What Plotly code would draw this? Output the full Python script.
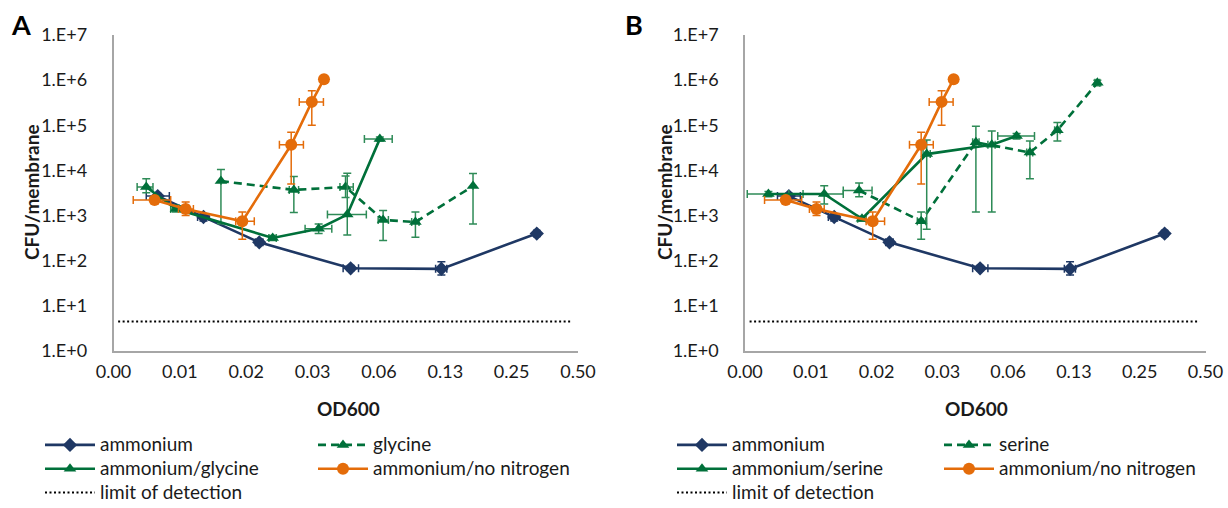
import numpy as np
import plotly.graph_objects as go

W, H = 1228, 508

# ---------------- data ----------------
x_tickvals = [0.00390625, 0.0078125, 0.015625, 0.03125, 0.0625, 0.125, 0.25, 0.5]
x_ticktext = ["0.00", "0.01", "0.02", "0.03", "0.06", "0.13", "0.25", "0.50"]
y_tickvals = [1, 10, 100, 1000, 10000, 100000, 1000000, 10000000]
y_ticktext = ["1.E+0", "1.E+1", "1.E+2", "1.E+3", "1.E+4", "1.E+5", "1.E+6", "1.E+7"]

# ammonium (both panels)
amm_x = [0.0062, 0.0100, 0.0179, 0.0465, 0.120, 0.325]
amm_y = [2700, 930, 255, 68, 66, 400]
amm_y_hi = [3100, 1100, 290, 78, 95, 450]
amm_y_lo = [2300, 760, 220, 60, 48, 350]
amm_x_hi = [0.0070, 0.0106, 0.0186, 0.0505, 0.127, 0.335]
amm_x_lo = [0.0055, 0.0094, 0.0172, 0.0430, 0.113, 0.315]

# ammonium/no nitrogen (both panels)
nn_x = [0.0060, 0.0083, 0.0150, 0.0250, 0.0310, 0.0352]
nn_y = [2200, 1400, 750, 37000, 330000, 1050000]
nn_y_hi = [2500, 2000, 1200, 70000, 580000, 1150000]
nn_y_lo = [1900, 1000, 300, 5000, 100000, 950000]
nn_x_hi = [0.0071, 0.0090, 0.0170, 0.0284, 0.0350, 0.0360]
nn_x_lo = [0.0048, 0.0077, 0.0140, 0.0221, 0.0272, 0.0345]

# panel A: ammonium/glycine
ag_x = [0.0055, 0.0075, 0.0206, 0.0333, 0.0449, 0.0631]
ag_y = [4300, 1400, 320, 510, 1050, 50000]
ag_y_hi = [6500, 1700, 360, 650, 8700, 55000]
ag_y_lo = [3200, 1200, 280, 400, 370, 45000]
ag_x_hi = [0.0059, 0.0079, 0.0214, 0.0382, 0.0548, 0.0718]
ag_x_lo = [0.0050, 0.0071, 0.0198, 0.0289, 0.0365, 0.0537]

# panel A: glycine
gly_x = [0.0120, 0.0257, 0.0441, 0.0653, 0.0915, 0.167]
gly_y = [5800, 3700, 4300, 800, 720, 4500]
gly_y_hi = [10500, 7300, 7500, 1300, 1200, 8500]
gly_y_lo = [660, 1170, 2500, 280, 330, 650]
gly_x_hi = [0.0120, 0.0270, 0.0478, 0.0690, 0.0950, 0.167]
gly_x_lo = [0.0120, 0.0245, 0.0416, 0.0620, 0.0880, 0.167]

# panel B: ammonium/serine
as_x = [0.0050, 0.0090, 0.0134, 0.0265, 0.0526, 0.0683]
as_y = [3000, 3000, 850, 23000, 37000, 58000]
as_y_hi = [3400, 4600, 950, 47000, 75000, 66000]
as_y_lo = [2600, 1800, 750, 500, 1200, 50000]
as_x_hi = [0.0062, 0.0110, 0.0140, 0.0275, 0.0545, 0.0825]
as_x_lo = [0.0040, 0.0072, 0.0128, 0.0255, 0.0505, 0.0560]

# panel B: serine
ser_x = [0.0130, 0.0250, 0.0445, 0.0786, 0.105, 0.160]
ser_y = [3600, 750, 42000, 25000, 78000, 870000]
ser_y_hi = [5300, 1200, 95000, 45000, 115000, 1000000]
ser_y_lo = [2600, 300, 1200, 6500, 45000, 750000]
ser_x_hi = [0.0149, 0.0262, 0.0460, 0.0810, 0.108, 0.164]
ser_x_lo = [0.0110, 0.0240, 0.0430, 0.0760, 0.102, 0.156]

# limit of detection
lod_x = [0.0041, 0.47]
lod_y = [4.5, 4.5]

# ---------------- styling ----------------
NAVY = "#1F3864"
ORANGE = "#E46C0A"
GREEN = "#00703A"
GREEN_ERR = "#2E8B57"
FONT = "Lato"
LEG_TXT = '<span style="font-size:19px">%s</span>'

fig = go.Figure()


def err(v, hi, lo):
    v, hi, lo = np.array(v), np.array(hi), np.array(lo)
    return (hi - v).tolist(), (v - lo).tolist()


def add_series(name, x, y, yhi, ylo, xhi, xlo, color, ecolor, symbol, msize,
               dash, xa, ya, legend):
    ep, em = err(y, yhi, ylo)
    xp, xm = err(x, xhi, xlo)
    fig.add_trace(go.Scatter(
        x=x, y=y, name=LEG_TXT % name, mode="lines+markers",
        line=dict(color=color, width=2.6, dash=dash),
        marker=dict(color=color, symbol=symbol, size=msize),
        error_y=dict(type="data", symmetric=False, array=ep, arrayminus=em,
                     color=ecolor, thickness=1.5, width=4),
        error_x=dict(type="data", symmetric=False, array=xp, arrayminus=xm,
                     color=ecolor, thickness=1.5, width=4),
        xaxis=xa, yaxis=ya, legend=legend,
    ))


def add_lod(xa, ya, legend):
    fig.add_trace(go.Scatter(
        x=lod_x, y=lod_y, name=LEG_TXT % "limit of detection", mode="lines",
        line=dict(color="black", width=2, dash="2px,2.5px"),
        xaxis=xa, yaxis=ya, legend=legend,
    ))


# Panel A
add_series("ammonium", amm_x, amm_y, amm_y_hi, amm_y_lo, amm_x_hi, amm_x_lo,
           NAVY, NAVY, "diamond", 11, "solid", "x", "y", "legend")
add_series("glycine", gly_x, gly_y, gly_y_hi, gly_y_lo, gly_x_hi, gly_x_lo,
           GREEN, GREEN_ERR, "triangle-up", 11, "8px,5px", "x", "y", "legend2")
add_series("ammonium/glycine", ag_x, ag_y, ag_y_hi, ag_y_lo, ag_x_hi, ag_x_lo,
           GREEN, GREEN_ERR, "triangle-up", 11, "solid", "x", "y", "legend")
add_series("ammonium/no nitrogen", nn_x, nn_y, nn_y_hi, nn_y_lo, nn_x_hi, nn_x_lo,
           ORANGE, ORANGE, "circle", 12, "solid", "x", "y", "legend2")
add_lod("x", "y", "legend")

# Panel B
add_series("ammonium", amm_x, amm_y, amm_y_hi, amm_y_lo, amm_x_hi, amm_x_lo,
           NAVY, NAVY, "diamond", 11, "solid", "x2", "y2", "legend3")
add_series("serine", ser_x, ser_y, ser_y_hi, ser_y_lo, ser_x_hi, ser_x_lo,
           GREEN, GREEN_ERR, "triangle-up", 11, "8px,5px", "x2", "y2", "legend4")
add_series("ammonium/serine", as_x, as_y, as_y_hi, as_y_lo, as_x_hi, as_x_lo,
           GREEN, GREEN_ERR, "triangle-up", 11, "solid", "x2", "y2", "legend3")
add_series("ammonium/no nitrogen", nn_x, nn_y, nn_y_hi, nn_y_lo, nn_x_hi, nn_x_lo,
           ORANGE, ORANGE, "circle", 12, "solid", "x2", "y2", "legend4")
add_lod("x2", "y2", "legend3")


def px(v):
    return v / W


def py(v):
    return 1 - v / H


xr = [np.log10(x_tickvals[0]), np.log10(x_tickvals[-1])]
axis_common_x = dict(
    type="log", range=xr, tickvals=x_tickvals, ticktext=x_ticktext,
    showgrid=False, zeroline=False, showline=True, linecolor="#A6A6A6",
    linewidth=1.5, ticks="", tickfont=dict(family=FONT, size=18, color="#1a1a1a"),
    ticklabelstandoff=4, automargin=False,
)
axis_common_y = dict(
    type="log", range=[0, 7], tickvals=y_tickvals, ticktext=y_ticktext,
    showgrid=False, zeroline=False, showline=True, linecolor="#A6A6A6",
    linewidth=1.5, ticks="", tickfont=dict(family=FONT, size=18, color="#1a1a1a"),
    ticklabelstandoff=21, automargin=False,
)

ydom = [py(351), py(35)]
fig.update_layout(
    width=W, height=H, margin=dict(l=0, r=0, t=0, b=0, autoexpand=False),
    paper_bgcolor="white", plot_bgcolor="white",
    font=dict(family=FONT, color="#1a1a1a"),
    xaxis=dict(axis_common_x, domain=[px(113.5), px(578)], anchor="y"),
    yaxis=dict(axis_common_y, domain=ydom, anchor="x"),
    xaxis2=dict(axis_common_x, domain=[px(745), px(1205.5)], anchor="y2"),
    yaxis2=dict(axis_common_y, domain=ydom, anchor="x2"),
)

leg_common = dict(orientation="v", xanchor="left", yanchor="top",
                  font=dict(family=FONT, size=16, color="#1a1a1a"),
                  bgcolor="rgba(0,0,0,0)", borderwidth=0, tracegroupgap=0,
                  itemwidth=50, itemclick=False, itemdoubleclick=False)
leg_top = py(428)
fig.update_layout(
    legend=dict(leg_common, x=px(40), y=leg_top),
    legend2=dict(leg_common, x=px(313), y=leg_top),
    legend3=dict(leg_common, x=px(672), y=leg_top),
    legend4=dict(leg_common, x=px(939), y=leg_top),
)

ann = []
for txt, x0, y0 in [("A", 21, 24), ("B", 634, 24)]:
    ann.append(dict(text="<b>%s</b>" % txt, x=px(x0), y=py(y0), xref="paper", yref="paper",
                    showarrow=False, xanchor="center", yanchor="middle",
                    font=dict(family=FONT, size=27, color="black")))
for x0 in [31, 664]:
    ann.append(dict(text="<b>CFU/membrane</b>", x=px(x0), y=py(192), xref="paper", yref="paper",
                    showarrow=False, xanchor="center", yanchor="middle", textangle=-90,
                    font=dict(family=FONT, size=19, color="#1a1a1a")))
for x0 in [348, 976]:
    ann.append(dict(text="<b>OD600</b>", x=px(x0), y=py(408), xref="paper", yref="paper",
                    showarrow=False, xanchor="center", yanchor="middle",
                    font=dict(family=FONT, size=19, color="#1a1a1a")))
fig.update_layout(annotations=ann)

fig.write_html("out.html")
